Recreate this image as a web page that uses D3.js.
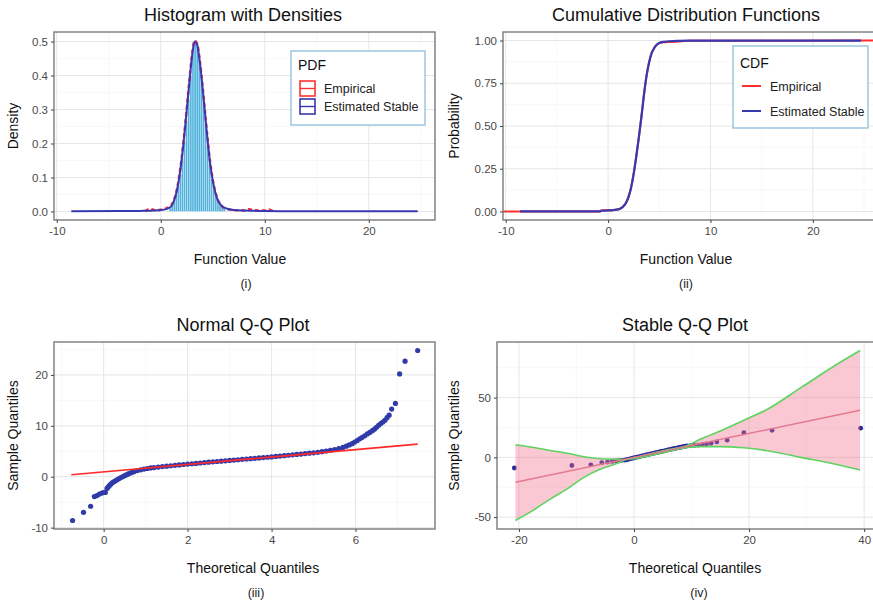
<!DOCTYPE html>
<html>
<head>
<meta charset="utf-8">
<script src="https://cdn.jsdelivr.net/npm/d3@7"></script>
<style>
    body { margin: 0; background: #fff; }
    text { font-family: "Liberation Sans", Arial, sans-serif; }
</style>
</head>
<body>
<svg id="chart" width="873" height="605"></svg>
<script>
"use strict";

// (i) histogram with densities
var histBinStart = [0.8, 1.0, 1.2, 1.4, 1.6, 1.8, 2.0, 2.2, 2.4, 2.6, 2.8, 3.0, 3.2, 3.4, 3.6, 3.8, 4.0, 4.2, 4.4, 4.6, 4.8, 5.0, 5.2, 5.4, 5.6, 5.8, 6.0];
var histDensity = [0.01, 0.02, 0.035, 0.05, 0.075, 0.11, 0.155, 0.205, 0.265, 0.33, 0.40, 0.465, 0.50, 0.49, 0.455, 0.40, 0.33, 0.26, 0.195, 0.14, 0.095, 0.065, 0.045, 0.03, 0.02, 0.013, 0.008];
var histBinWidth = 0.2;
var pdfStableX = [-8.6, -4, -2, -1.2, -1.0, -0.8, -0.5, 0, 0.5, 1.0, 1.25, 1.5, 1.75, 2.0, 2.25, 2.5, 2.75, 3.0, 3.25, 3.5, 3.75, 4.0, 4.25, 4.5, 4.75, 5.0, 5.25, 5.5, 5.75, 6.0, 6.5, 7.0, 8.0, 9.0, 10.0, 12, 15, 20, 24.7];
var pdfStable = [0.0005, 0.001, 0.0015, 0.002, 0.002, 0.0025, 0.003, 0.004, 0.007, 0.015, 0.03, 0.055, 0.095, 0.15, 0.22, 0.30, 0.38, 0.455, 0.50, 0.49, 0.44, 0.37, 0.29, 0.21, 0.14, 0.09, 0.055, 0.032, 0.02, 0.013, 0.007, 0.004, 0.0025, 0.0018, 0.0012, 0.0009, 0.0006, 0.0004, 0.0003];
var pdfEmpiricalX = [-1.5, -1.2, -1.0, -0.8, -0.5, 0, 0.5, 1.0, 1.25, 1.5, 1.75, 2.0, 2.25, 2.5, 2.75, 3.0, 3.25, 3.5, 3.75, 4.0, 4.25, 4.5, 4.75, 5.0, 5.25, 5.5, 5.75, 6.0, 6.5, 7.0, 8.0, 8.5, 9.0, 10.0, 10.4, 10.8];
var pdfEmpirical = [0.001, 0.006, 0.009, 0.006, 0.003, 0.005, 0.009, 0.018, 0.033, 0.058, 0.1, 0.156, 0.226, 0.305, 0.386, 0.46, 0.503, 0.494, 0.446, 0.376, 0.296, 0.216, 0.146, 0.094, 0.058, 0.034, 0.02, 0.012, 0.006, 0.004, 0.003, 0.007, 0.004, 0.003, 0.006, 0.001];

// (ii) cumulative distribution functions
var cdfX = [-8.6, -0.8, -0.7, 0.0, 0.5, 1.0, 1.25, 1.5, 1.75, 2.0, 2.25, 2.5, 2.75, 3.0, 3.25, 3.5, 3.75, 4.0, 4.25, 4.5, 4.75, 5.0, 5.5, 6.0, 7.0, 8.0, 10.0, 24.7];
var cdfStable = [0.0, 0.0, 0.004, 0.006, 0.008, 0.012, 0.018, 0.03, 0.05, 0.085, 0.14, 0.22, 0.32, 0.43, 0.55, 0.68, 0.79, 0.87, 0.925, 0.955, 0.975, 0.986, 0.993, 0.996, 0.998, 0.999, 1.0, 1.0];
var cdfEmpirical = [0.0, 0.0, 0.005, 0.007, 0.009, 0.013, 0.019, 0.031, 0.052, 0.087, 0.142, 0.222, 0.322, 0.432, 0.552, 0.682, 0.792, 0.872, 0.926, 0.956, 0.976, 0.985, 0.99, 0.992, 0.995, 0.999, 0.999, 1.0];

// (iii) normal Q-Q plot: [theoretical, sample]
var normalQQ = [
    [-0.74, -8.6], [-0.48, -7.0], [-0.31, -5.8], [-0.22, -3.9], [-0.16, -3.7], [-0.1, -3.4], [-0.04, -3.2], [0.0, -3.1],
    [0.04, -3.1], [0.08, -2.3], [0.11, -2.0], [0.14, -1.7], [0.17, -1.5], [0.2, -1.2], [0.24, -1.0], [0.28, -0.8],
    [0.32, -0.6], [0.36, -0.4], [0.4, -0.2], [0.45, 0.0], [0.5, 0.2], [0.55, 0.4], [0.6, 0.6], [0.66, 0.8],
    [0.72, 1.0], [0.8, 1.2], [0.88, 1.35], [0.96, 1.5], [1.04, 1.62], [1.12, 1.72], [1.2, 1.8], [1.3, 1.9],
    [1.4, 2.0], [1.5, 2.08], [1.6, 2.16], [1.7, 2.24], [1.8, 2.32], [1.9, 2.4], [2.0, 2.48], [2.1, 2.55],
    [2.2, 2.62], [2.3, 2.7], [2.4, 2.78], [2.5, 2.85], [2.6, 2.92], [2.7, 2.99], [2.8, 3.06], [2.9, 3.13],
    [3.0, 3.2], [3.1, 3.27], [3.2, 3.34], [3.3, 3.41], [3.4, 3.48], [3.5, 3.55], [3.6, 3.62], [3.7, 3.69],
    [3.8, 3.76], [3.9, 3.83], [4.0, 3.9], [4.1, 3.98], [4.2, 4.06], [4.3, 4.14], [4.4, 4.22], [4.5, 4.3],
    [4.6, 4.38], [4.7, 4.46], [4.8, 4.54], [4.9, 4.62], [5.0, 4.7], [5.1, 4.8], [5.2, 4.92], [5.3, 5.05],
    [5.4, 5.2], [5.5, 5.35], [5.6, 5.55], [5.7, 5.75], [5.78, 6.0], [5.85, 6.25], [5.92, 6.5], [5.98, 6.8],
    [6.04, 7.1], [6.1, 7.45], [6.16, 7.75], [6.22, 8.05], [6.28, 8.4], [6.34, 8.7], [6.4, 9.05], [6.45, 9.35],
    [6.5, 9.7], [6.55, 10.1], [6.6, 10.45], [6.65, 10.75], [6.7, 11.1], [6.75, 11.6], [6.8, 12.1], [6.86, 13.3],
    [6.95, 14.4], [7.05, 20.2], [7.18, 22.7], [7.48, 24.8]
];
var normalQQLine = [[-0.77, 0.4], [7.48, 6.4]];

// (iv) stable Q-Q plot: [theoretical, sample] and confidence band
var stableQQ = [
    [-20.8, -8.9], [-10.8, -6.8], [-7.5, -6.2], [-5.6, -4.4], [-4.6, -3.9], [-3.8, -3.4], [-3.1, -3.0], [-2.6, -2.8], [-2.1, -2.5],
    [-1.6, -2.3], [-1.3, -2.0], [-1.0, -1.6], [-0.7, -1.2], [-0.4, -0.9], [-0.1, -0.5], [0.2, -0.2], [0.5, 0.2], [0.8, 0.5],
    [1.1, 0.9], [1.4, 1.2], [1.7, 1.5], [2.0, 1.9], [2.3, 2.2], [2.6, 2.5], [2.9, 2.9], [3.2, 3.2], [3.5, 3.5], [3.8, 3.9],
    [4.1, 4.2], [4.4, 4.5], [4.7, 4.9], [5.0, 5.2], [5.3, 5.5], [5.6, 5.9], [5.9, 6.2], [6.2, 6.5], [6.5, 6.9], [6.8, 7.2],
    [7.1, 7.5], [7.4, 7.8], [7.7, 8.1], [8.0, 8.4], [8.3, 8.7], [8.6, 9.0], [8.9, 9.3], [9.2, 9.6],
    [9.8, 9.8], [10.5, 10.0], [11.2, 10.3], [11.9, 10.8], [12.6, 11.2], [13.4, 11.8], [14.4, 12.9], [16.2, 14.4],
    [19.1, 20.6], [24.0, 22.6], [39.4, 24.4]
];
var stableBandX = [-20.6, -17.4, -14.5, -11.6, -8.7, -5.8, -2.9, -1.7, 0, 2.9, 5.8, 9.3, 11.6, 15.1, 19.1, 23.2, 29.0, 34.8, 39.3];
var stableBandA = [10.6, 8.3, 5.8, 3.4, 0.5, -1.1, -1.5, -1.8, -1.2, 1.6, 4.8, 8.3, 9.0, 9.0, 8.0, 5.6, 0.0, -5.6, -10.6];
var stableBandB = [-52.8, -43.9, -34.7, -26.4, -16.7, -9.7, -5.0, -2.4, -0.2, 3.0, 6.3, 9.9, 15.3, 22.2, 31.1, 40.3, 58.3, 76.4, 89.4];
var stableQQLine = [[-20.6, -20.8], [39.3, 39.4]];

var legendPdf = ["Empirical", "Estimated Stable"];
var legendCdf = ["Empirical", "Estimated Stable"];

var red = "#ff3030";
var blue = "#3838b0";
var svg = d3.select("#chart");

var expand = function (ext) {
    var pad = (ext[1] - ext[0]) * 0.05;
    return [ext[0] - pad, ext[1] + pad];
};

var fmtInt = function (d) { return String(d); };

var makePanel = function (cfg) {
    var x = d3.scaleLinear().domain(cfg.xDomain).range([cfg.left, cfg.right]);
    var y = d3.scaleLinear().domain(cfg.yDomain).range([cfg.bottom, cfg.top]);
    var g = svg.append("g");
    var clipId = "clip-" + cfg.id;

    svg.append("clipPath").attr("id", clipId).append("rect")
        .attr("x", cfg.left).attr("y", cfg.top)
        .attr("width", cfg.right - cfg.left).attr("height", cfg.bottom - cfg.top);

    var grid = g.append("g");
    grid.selectAll(".xminor").data(cfg.xMinor).enter().append("line")
        .attr("x1", x).attr("x2", x).attr("y1", cfg.top).attr("y2", cfg.bottom)
        .attr("stroke", "#f3f3f3").attr("stroke-width", 0.6);
    grid.selectAll(".yminor").data(cfg.yMinor).enter().append("line")
        .attr("y1", y).attr("y2", y).attr("x1", cfg.left).attr("x2", cfg.right)
        .attr("stroke", "#f3f3f3").attr("stroke-width", 0.6);
    grid.selectAll(".xmajor").data(cfg.xTicks).enter().append("line")
        .attr("x1", x).attr("x2", x).attr("y1", cfg.top).attr("y2", cfg.bottom)
        .attr("stroke", "#e6e6e6").attr("stroke-width", 1);
    grid.selectAll(".ymajor").data(cfg.yTicks).enter().append("line")
        .attr("y1", y).attr("y2", y).attr("x1", cfg.left).attr("x2", cfg.right)
        .attr("stroke", "#e6e6e6").attr("stroke-width", 1);

    var plot = g.append("g").attr("clip-path", "url(#" + clipId + ")");
    return { g: g, plot: plot, x: x, y: y, cfg: cfg };
};

var styleAxis = function (sel) {
    sel.select(".domain").remove();
    sel.selectAll(".tick line").attr("stroke", "#444").attr("stroke-width", 1);
    sel.selectAll(".tick text").attr("fill", "#4a4a4a")
        .style("font-family", "'Liberation Sans', Arial, sans-serif")
        .style("font-size", "11.5px");
};

var finishPanel = function (p) {
    var cfg = p.cfg;
    p.g.append("rect")
        .attr("x", cfg.left).attr("y", cfg.top)
        .attr("width", cfg.right - cfg.left).attr("height", cfg.bottom - cfg.top)
        .attr("fill", "none").attr("stroke", "#7a7a7a").attr("stroke-width", 1.4);

    p.g.append("g").attr("transform", "translate(0," + cfg.bottom + ")")
        .call(d3.axisBottom(p.x).tickValues(cfg.xTicks).tickSize(3).tickPadding(4).tickFormat(cfg.xFormat || fmtInt))
        .call(styleAxis);
    p.g.append("g").attr("transform", "translate(" + cfg.left + ",0)")
        .call(d3.axisLeft(p.y).tickValues(cfg.yTicks).tickSize(3).tickPadding(3).tickFormat(cfg.yFormat || fmtInt))
        .call(styleAxis);

    p.g.append("text").attr("x", cfg.titleX).attr("y", cfg.top - 11)
        .attr("text-anchor", "middle").attr("fill", "#111").style("font-size", "18px")
        .text(cfg.title);
    p.g.append("text").attr("x", cfg.xLabelX).attr("y", cfg.bottom + 44)
        .attr("text-anchor", "middle").attr("fill", "#111").style("font-size", "14px")
        .text(cfg.xLabel);
    p.g.append("text")
        .attr("transform", "translate(" + cfg.yLabelX + "," + ((cfg.top + cfg.bottom) / 2) + ") rotate(-90)")
        .attr("text-anchor", "middle").attr("fill", "#111").style("font-size", "14px")
        .text(cfg.yLabel);
    p.g.append("text").attr("x", cfg.capX).attr("y", cfg.bottom + 68)
        .attr("text-anchor", "middle").attr("fill", "#222").style("font-size", "12.5px")
        .text(cfg.caption);
};

// ---------- (i) ----------
var p1 = makePanel({
    id: "p1", left: 54, right: 435, top: 32, bottom: 220,
    xDomain: expand(d3.extent(pdfStableX)),
    yDomain: expand([0, d3.max(pdfEmpirical.concat(pdfStable, histDensity))]),
    xTicks: [-10, 0, 10, 20], xMinor: [-5, 5, 15, 25],
    yTicks: [0, 0.1, 0.2, 0.3, 0.4, 0.5], yMinor: [0.05, 0.15, 0.25, 0.35, 0.45],
    yFormat: function (d) { return d.toFixed(1); },
    title: "Histogram with Densities", titleX: 243,
    xLabel: "Function Value", xLabelX: 240,
    yLabel: "Density", yLabelX: 18,
    caption: "(i)", capX: 246
});

p1.plot.selectAll(".bar").data(histBinStart).enter().append("rect")
    .attr("x", function (d) { return p1.x(d); })
    .attr("width", function (d) { return p1.x(d + histBinWidth) - p1.x(d); })
    .attr("y", function (d, i) { return p1.y(histDensity[i]); })
    .attr("height", function (d, i) { return p1.y(0) - p1.y(histDensity[i]); })
    .attr("fill", "#52b2dc").attr("stroke", "#e4f3fa").attr("stroke-width", 0.35);

var pdfLine = d3.line().x(function (d) { return p1.x(d[0]); }).y(function (d) { return p1.y(d[1]); }).curve(d3.curveMonotoneX);

p1.plot.append("path")
    .attr("d", pdfLine(d3.zip(pdfEmpiricalX, pdfEmpirical)))
    .attr("fill", "none").attr("stroke", red).attr("stroke-width", 2.4).attr("stroke-dasharray", "4,3");
p1.plot.append("path")
    .attr("d", pdfLine(d3.zip(pdfStableX, pdfStable)))
    .attr("fill", "none").attr("stroke", blue).attr("stroke-width", 2);

finishPanel(p1);

var leg1 = p1.g.append("g").attr("transform", "translate(291,51)");
leg1.append("rect").attr("width", 134).attr("height", 74)
    .attr("fill", "#fff").attr("stroke", "#8cbddc").attr("stroke-width", 1.3);
leg1.append("text").attr("x", 7).attr("y", 19).style("font-size", "14px").attr("fill", "#111").text("PDF");
var leg1Entry = leg1.selectAll(".entry").data(legendPdf).enter().append("g")
    .attr("transform", function (d, i) { return "translate(9," + (30 + i * 18) + ")"; });
leg1Entry.append("rect").attr("width", 15).attr("height", 15)
    .attr("fill", "#fff").attr("stroke", function (d, i) { return i === 0 ? red : blue; }).attr("stroke-width", 1.6);
leg1Entry.append("line").attr("x1", 0).attr("x2", 15).attr("y1", 7.5).attr("y2", 7.5)
    .attr("stroke", function (d, i) { return i === 0 ? red : blue; }).attr("stroke-width", 1.4);
leg1Entry.append("text").attr("x", 24).attr("y", 12).style("font-size", "12.5px").attr("fill", "#222")
    .text(function (d) { return d; });

// ---------- (ii) ----------
var p2 = makePanel({
    id: "p2", left: 503, right: 878, top: 32, bottom: 220,
    xDomain: expand(d3.extent(cdfX)),
    yDomain: expand([0, 1]),
    xTicks: [-10, 0, 10, 20], xMinor: [-5, 5, 15, 25],
    yTicks: [0, 0.25, 0.5, 0.75, 1], yMinor: [0.125, 0.375, 0.625, 0.875],
    yFormat: function (d) { return d.toFixed(2); },
    title: "Cumulative Distribution Functions", titleX: 686,
    xLabel: "Function Value", xLabelX: 686,
    yLabel: "Probability", yLabelX: 459,
    caption: "(ii)", capX: 686
});

var cdfLine = d3.line().x(function (d) { return p2.x(d[0]); }).y(function (d) { return p2.y(d[1]); });
var xd2 = p2.x.domain();
// the ECDF runs on to both panel edges
var empPoints = [[xd2[0], 0]].concat(d3.zip(cdfX, cdfEmpirical), [[xd2[1], 1]]);
p2.plot.append("path")
    .attr("d", cdfLine.curve(d3.curveMonotoneX)(empPoints))
    .attr("fill", "none").attr("stroke", red).attr("stroke-width", 2);
p2.plot.append("path")
    .attr("d", cdfLine.curve(d3.curveMonotoneX)(d3.zip(cdfX, cdfStable)))
    .attr("fill", "none").attr("stroke", blue).attr("stroke-width", 2.2);

finishPanel(p2);

var leg2 = p2.g.append("g").attr("transform", "translate(733,46)");
leg2.append("rect").attr("width", 135).attr("height", 82)
    .attr("fill", "#fff").attr("stroke", "#8cbddc").attr("stroke-width", 1.3);
leg2.append("text").attr("x", 7).attr("y", 22).style("font-size", "14px").attr("fill", "#111").text("CDF");
var leg2Entry = leg2.selectAll(".entry").data(legendCdf).enter().append("g")
    .attr("transform", function (d, i) { return "translate(9," + (40 + i * 25) + ")"; });
leg2Entry.append("line").attr("x1", 0).attr("x2", 19).attr("y1", 0).attr("y2", 0)
    .attr("stroke", function (d, i) { return i === 0 ? red : blue; }).attr("stroke-width", 2);
leg2Entry.append("text").attr("x", 28).attr("y", 5).style("font-size", "12.5px").attr("fill", "#222")
    .text(function (d) { return d; });

// ---------- (iii) ----------
var p3 = makePanel({
    id: "p3", left: 54, right: 435, top: 342, bottom: 529,
    xDomain: expand([-0.77, d3.max(normalQQ, function (d) { return d[0]; })]),
    yDomain: expand(d3.extent(normalQQ, function (d) { return d[1]; })),
    xTicks: [0, 2, 4, 6], xMinor: [-1, 1, 3, 5, 7],
    yTicks: [-10, 0, 10, 20], yMinor: [-5, 5, 15, 25],
    title: "Normal Q-Q Plot", titleX: 243,
    xLabel: "Theoretical Quantiles", xLabelX: 253,
    yLabel: "Sample Quantiles", yLabelX: 18,
    caption: "(iii)", capX: 256
});

p3.plot.selectAll(".pt").data(normalQQ).enter().append("circle")
    .attr("cx", function (d) { return p3.x(d[0]); })
    .attr("cy", function (d) { return p3.y(d[1]); })
    .attr("r", 2.6).attr("fill", "#2f3ba8");
p3.plot.append("path")
    .attr("d", d3.line().x(function (d) { return p3.x(d[0]); }).y(function (d) { return p3.y(d[1]); })(normalQQLine))
    .attr("stroke", "#ff2a2a").attr("stroke-width", 1.6).attr("fill", "none");

finishPanel(p3);

// ---------- (iv) ----------
var p4 = makePanel({
    id: "p4", left: 497, right: 878, top: 342, bottom: 529,
    xDomain: expand(d3.extent(stableQQ, function (d) { return d[0]; })),
    yDomain: expand(d3.extent(stableBandA.concat(stableBandB))),
    xTicks: [-20, 0, 20, 40], xMinor: [-10, 10, 30],
    yTicks: [-50, 0, 50], yMinor: [-25, 25, 75],
    title: "Stable Q-Q Plot", titleX: 685,
    xLabel: "Theoretical Quantiles", xLabelX: 695,
    yLabel: "Sample Quantiles", yLabelX: 459,
    caption: "(iv)", capX: 699
});

p4.plot.selectAll(".pt").data(stableQQ).enter().append("circle")
    .attr("cx", function (d) { return p4.x(d[0]); })
    .attr("cy", function (d) { return p4.y(d[1]); })
    .attr("r", 2.4).attr("fill", "#2b2b9c");

var band = d3.zip(stableBandX, stableBandA, stableBandB);
p4.plot.append("path")
    .attr("d", d3.area().curve(d3.curveMonotoneX)
        .x(function (d) { return p4.x(d[0]); })
        .y0(function (d) { return p4.y(d[1]); })
        .y1(function (d) { return p4.y(d[2]); })(band))
    .attr("fill", "rgba(240,110,140,0.38)");
var bandLine = d3.line().curve(d3.curveMonotoneX).x(function (d) { return p4.x(d[0]); });
p4.plot.append("path").attr("d", bandLine.y(function (d) { return p4.y(d[1]); })(band))
    .attr("fill", "none").attr("stroke", "#5fd35f").attr("stroke-width", 1.6);
p4.plot.append("path").attr("d", bandLine.y(function (d) { return p4.y(d[2]); })(band))
    .attr("fill", "none").attr("stroke", "#5fd35f").attr("stroke-width", 1.6);
p4.plot.append("path")
    .attr("d", d3.line().x(function (d) { return p4.x(d[0]); }).y(function (d) { return p4.y(d[1]); })(stableQQLine))
    .attr("stroke", "#e27a8e").attr("stroke-width", 1.5).attr("fill", "none");

finishPanel(p4);
</script>
</body>
</html>
